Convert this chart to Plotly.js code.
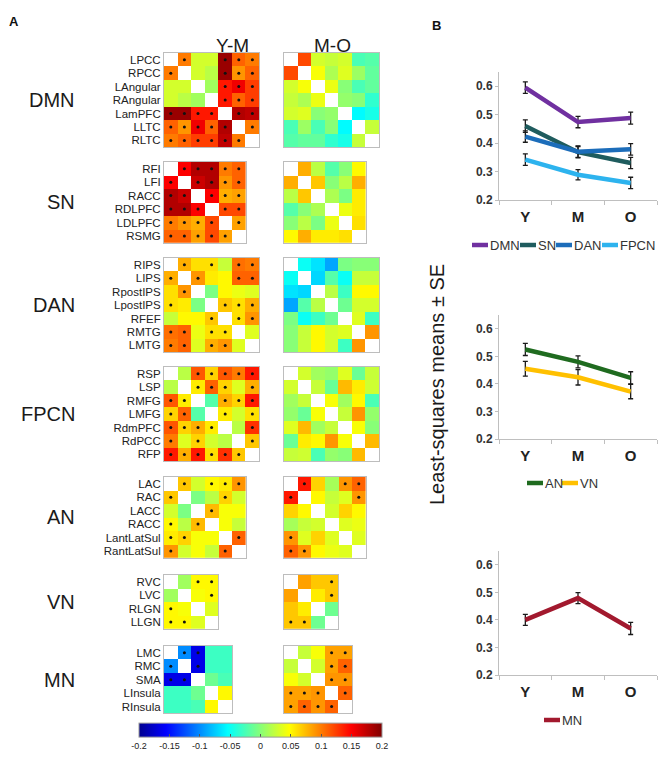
<!DOCTYPE html>
<html><head><meta charset="utf-8">
<script src="https://cdn.plot.ly/plotly-3.0.1.min.js"></script>
<style>html,body{margin:0;padding:0;background:#fff;}#chart{width:666px;height:763px;}</style>
</head><body><div id="chart"></div>
<script>
// ---------------- DATA ----------------
const networks = ['DMN','SN','DAN','FPCN','AN','VN','MN'];
const contrasts = ['Y-M','M-O'];

const DMN_regions = ['LPCC','RPCC','LAngular','RAngular','LamPFC','LLTC','RLTC'];
const SN_regions = ['RFI','LFI','RACC','RDLPFC','LDLPFC','RSMG'];
const DAN_regions = ['RIPS','LIPS','RpostIPS','LpostIPS','RFEF','RMTG','LMTG'];
const FPCN_regions = ['RSP','LSP','RMFG','LMFG','RdmPFC','RdPCC','RFP'];
const AN_regions = ['LAC','RAC','LACC','RACC','LantLatSul','RantLatSul'];
const VN_regions = ['RVC','LVC','RLGN','LLGN'];
const MN_regions = ['LMC','RMC','SMA','LInsula','RInsula'];

const DMN_YM = [
[null,0.10,0.03,0.03,0.19,0.11,0.10],
[0.10,null,0.03,0.02,0.19,0.09,0.11],
[0.03,0.03,null,0.01,0.14,0.155,0.125],
[0.03,0.02,0.01,null,0.14,0.11,0.125],
[0.19,0.19,0.14,0.14,null,0.18,0.175],
[0.11,0.09,0.155,0.11,0.18,null,0.10],
[0.10,0.11,0.125,0.125,0.175,0.10,null]];
const DMN_MO = [
[null,0.12,0.03,0.025,0.03,-0.025,-0.02],
[0.12,null,0.045,0.015,0.035,0.008,-0.015],
[0.03,0.045,null,0.04,0.0,-0.025,-0.015],
[0.025,0.015,0.04,null,0.005,0.0,-0.035],
[0.03,0.035,0.0,0.005,null,-0.055,-0.045],
[-0.025,0.008,-0.025,0.0,-0.055,null,0.025],
[-0.02,-0.015,-0.015,-0.035,-0.045,0.025,null]];
const SN_YM = [
[null,0.15,0.18,0.18,0.10,0.11],
[0.15,null,0.17,0.18,0.09,0.11],
[0.18,0.17,null,0.15,0.08,0.085],
[0.18,0.18,0.15,null,0.12,0.12],
[0.10,0.09,0.08,0.12,null,0.085],
[0.11,0.11,0.085,0.12,0.085,null]];
const SN_MO = [
[null,0.08,0.02,-0.02,0.0,0.05],
[0.08,null,0.07,0.0,0.02,0.08],
[0.02,0.07,null,0.015,-0.005,0.055],
[-0.02,0.0,0.015,null,0.04,0.055],
[0.0,0.02,-0.005,0.04,null,0.06],
[0.05,0.08,0.055,0.055,0.06,null]];
const DAN_YM = [
[null,0.08,0.06,0.06,0.025,0.105,0.10],
[0.08,null,0.09,0.055,0.05,0.11,0.11],
[0.06,0.09,null,-0.005,0.05,0.04,0.035],
[0.06,0.055,-0.005,null,0.07,0.06,0.08],
[0.025,0.05,0.05,0.07,null,0.06,0.09],
[0.105,0.11,0.04,0.06,0.06,null,0.035],
[0.10,0.11,0.035,0.08,0.09,0.035,null]];
const DAN_MO = [
[null,-0.05,-0.065,-0.09,-0.005,0.0,0.0],
[-0.05,null,-0.07,-0.02,-0.05,0.025,0.025],
[-0.065,-0.07,null,0.02,-0.03,0.05,0.05],
[-0.09,-0.02,0.02,null,-0.01,0.03,0.03],
[-0.005,-0.05,-0.03,-0.01,null,0.035,-0.03],
[0.0,0.025,0.05,0.03,0.035,null,0.09],
[0.0,0.025,0.05,0.03,-0.03,0.09,null]];
const FPCN_YM = [
[null,0.02,0.115,0.065,0.115,0.10,0.14],
[0.02,null,0.055,0.11,0.065,0.035,0.08],
[0.115,0.055,null,-0.02,0.08,0.065,0.14],
[0.065,0.11,-0.02,null,0.055,0.03,0.06],
[0.115,0.065,0.08,0.055,null,0.02,0.13],
[0.10,0.035,0.065,0.03,0.02,null,0.07],
[0.14,0.08,0.14,0.06,0.13,0.07,null]];
const FPCN_MO = [
[null,0.03,0.01,0.005,0.035,-0.012,0.025],
[0.03,null,0.025,-0.012,0.075,0.055,0.028],
[0.01,0.025,null,0.045,0.01,0.05,-0.025],
[0.005,-0.012,0.045,null,0.025,0.09,0.005],
[0.035,0.075,0.01,0.025,null,0.045,0.0],
[-0.012,0.055,0.05,0.09,0.045,null,0.075],
[0.025,0.028,-0.025,0.005,0.0,0.075,null]];
const AN_YM = [
[null,0.07,0.03,0.05,0.055,0.09],
[0.07,null,-0.005,0.02,0.065,0.03],
[0.03,-0.005,null,0.075,0.045,0.045],
[0.05,0.02,0.075,null,0.045,0.025],
[0.055,0.065,0.045,0.045,null,0.11],
[0.09,0.03,0.045,0.025,0.11,null]];
const AN_MO = [
[null,0.14,0.065,0.012,0.09,0.11],
[0.14,null,0.05,0.025,0.035,0.09],
[0.065,0.05,null,0.03,0.065,0.05],
[0.012,0.025,0.03,null,0.035,0.04],
[0.09,0.035,0.065,0.035,null,0.035],
[0.11,0.09,0.05,0.04,0.035,null]];
const VN_YM = [
[null,0.01,0.05,0.05],
[0.01,null,0.045,0.05],
[0.05,0.045,null,0.035],
[0.05,0.05,0.035,null]];
const VN_MO = [
[null,0.085,0.07,0.07],
[0.085,null,0.055,0.07],
[0.07,0.055,null,-0.01],
[0.07,0.07,-0.01,null]];
const MN_YM = [
[null,-0.1,-0.165,-0.03,-0.03],
[-0.1,null,-0.165,-0.03,-0.03],
[-0.165,-0.165,null,-0.01,-0.025],
[-0.03,-0.03,-0.01,null,0.05],
[-0.03,-0.03,-0.025,0.05,null]];
const MN_MO = [
[null,0.025,0.045,0.085,0.085],
[0.025,null,0.03,0.085,0.11],
[0.045,0.03,null,0.09,0.09],
[0.085,0.085,0.09,null,0.11],
[0.085,0.11,0.09,0.11,null]];

// significance markers (1 = dot)
const DMN_YM_SIG = [
[0,1,0,0,1,1,1],[1,0,0,0,1,1,1],[0,0,0,0,1,1,1],[0,0,0,0,1,1,1],
[1,1,1,1,0,1,1],[1,1,1,1,1,0,1],[1,1,1,1,1,1,0]];
const SN_YM_SIG = [
[0,1,1,1,1,1],[1,0,1,1,1,1],[1,1,0,1,1,1],[1,1,1,0,1,1],[1,1,1,1,0,1],[1,1,1,1,1,0]];
const DAN_YM_SIG = [
[0,1,0,1,0,1,1],[1,0,1,0,0,1,1],[0,1,0,0,0,0,0],[1,0,0,0,1,1,1],
[0,0,0,1,0,1,1],[1,1,0,1,1,0,0],[1,1,0,1,1,0,0]];
const FPCN_YM_SIG = [
[0,0,1,1,1,1,1],[0,0,1,1,1,0,1],[1,1,0,0,1,1,1],[1,1,0,0,1,0,1],
[1,1,1,1,0,0,1],[1,0,1,0,0,0,1],[1,1,1,1,1,1,0]];
const AN_YM_SIG = [
[0,1,0,1,1,1],[1,0,0,0,1,0],[0,0,0,1,0,0],[1,0,1,0,0,0],[1,1,0,0,0,1],[1,0,0,0,1,0]];
const AN_MO_SIG = [
[0,1,0,0,1,1],[1,0,0,0,0,1],[0,0,0,0,0,0],[0,0,0,0,0,0],[1,0,0,0,0,0],[1,1,0,0,0,0]];
const VN_YM_SIG = [[0,0,1,1],[0,0,0,1],[1,0,0,0],[1,1,0,0]];
const VN_MO_SIG = [[0,0,0,1],[0,0,0,1],[0,0,0,0],[1,1,0,0]];
const MN_YM_SIG = [[0,1,1,0,0],[1,0,1,0,0],[1,1,0,0,0],[0,0,0,0,0],[0,0,0,0,0]];
const MN_MO_SIG = [[0,0,0,1,1],[0,0,0,1,1],[0,0,0,1,1],[1,1,1,0,1],[1,1,1,1,0]];

const colorbarTicks = [-0.2,-0.15,-0.1,-0.05,0,0.05,0.1,0.15,0.2];

// line charts (panel B)
const groups = ['Y','M','O'];
const DMN_mean=[0.595,0.474,0.488], DMN_se=[0.02,0.02,0.021];
const SN_mean=[0.46,0.368,0.33], SN_se=[0.022,0.02,0.02];
const DAN_mean=[0.423,0.37,0.378], DAN_se=[0.02,0.02,0.02];
const FPCN_mean=[0.342,0.289,0.26], FPCN_se=[0.02,0.018,0.02];
const AN_mean=[0.525,0.48,0.422], AN_se=[0.022,0.022,0.022];
const VN_mean=[0.455,0.424,0.372], VN_se=[0.027,0.028,0.026];
const MN_mean=[0.4,0.479,0.369], MN_se=[0.02,0.02,0.022];
const lineNames1 = ['DMN','SN','DAN','FPCN'];
const lineNames2 = ['AN','VN'];
const lineNames3 = ['MN'];

// ---------------- STYLE / LAYOUT ----------------
const W=666, H=763;
const px = x => x/W;
const py = y => 1 - y/H;
const jet = [[0,'rgb(0,0,143)'],[0.111,'rgb(0,0,255)'],[0.365,'rgb(0,255,255)'],
             [0.619,'rgb(255,255,0)'],[0.873,'rgb(255,0,0)'],[1,'rgb(128,0,0)']];
const lineColors = {DMN:'#7030A0',SN:'#1F5C5E',DAN:'#1C6DBA',FPCN:'#2DB3EE',AN:'#1F6B1F',VN:'#FFC000',MN:'#A2192E'};
const blockTops = [53,162,258,367,477,575,646];
const colX = [164,284];
const cw = 13.6, ch = 13.45;

const blocks = [
 {name:'DMN',reg:DMN_regions,z:[DMN_YM,DMN_MO],sig:[DMN_YM_SIG,null]},
 {name:'SN',reg:SN_regions,z:[SN_YM,SN_MO],sig:[SN_YM_SIG,null]},
 {name:'DAN',reg:DAN_regions,z:[DAN_YM,DAN_MO],sig:[DAN_YM_SIG,null]},
 {name:'FPCN',reg:FPCN_regions,z:[FPCN_YM,FPCN_MO],sig:[FPCN_YM_SIG,null]},
 {name:'AN',reg:AN_regions,z:[AN_YM,AN_MO],sig:[AN_YM_SIG,AN_MO_SIG]},
 {name:'VN',reg:VN_regions,z:[VN_YM,VN_MO],sig:[VN_YM_SIG,VN_MO_SIG]},
 {name:'MN',reg:MN_regions,z:[MN_YM,MN_MO],sig:[MN_YM_SIG,MN_MO_SIG]}
];

const data = [];
const layout = {
  width:W, height:H, margin:{l:0,r:0,t:0,b:0}, showlegend:false,
  paper_bgcolor:'#fff', plot_bgcolor:'#fff',
  font:{family:'Arial, Liberation Sans, sans-serif', color:'#222'},
  annotations:[], shapes:[]
};

let k = 0;
blocks.forEach((b,bi) => {
  const n = b.reg.length;
  const y0 = blockTops[bi], y1 = y0 + n*ch;
  layout.annotations.push({xref:'paper',yref:'paper',x:px(77),y:py((y0+y1)/2),xanchor:'right',yanchor:'middle',
    text:b.name, showarrow:false, font:{size:20,color:'#1a1a1a'}});
  for (let c=0;c<2;c++){
    k++;
    const xa = 'x'+k, ya = 'y'+k;
    const x0 = colX[c], x1 = x0 + n*cw;
    data.push({type:'heatmap', z:b.z[c], x:[...Array(n).keys()], y:[...Array(n).keys()],
      xaxis:xa, yaxis:ya, colorscale:jet, zmin:-0.2, zmax:0.2, hoverinfo:'skip',
      showscale: k===1,
      colorbar: k===1 ? {orientation:'h', x:px((139+382)/2), xanchor:'center', y:py(739), yanchor:'middle',
         len:(382-139)/W, lenmode:'fraction', thickness:14, thicknessmode:'pixels',
         xpad:0, ypad:0, outlinecolor:'#999', outlinewidth:1,
         tickvals:colorbarTicks, ticktext:colorbarTicks.map(String), ticks:'inside', ticklen:3, tickcolor:'#555',
         tickfont:{size:9,color:'#222'}} : undefined});
    if (b.sig[c]) {
      const sx=[], sy=[];
      b.sig[c].forEach((row,i)=>row.forEach((v,j)=>{ if(v){sx.push(j); sy.push(i);} }));
      data.push({type:'scatter', mode:'markers', x:sx, y:sy, xaxis:xa, yaxis:ya, hoverinfo:'skip',
        marker:{size:3, color:'#111'}});
    }
    layout['xaxis'+k] = {domain:[px(x0),px(x1)], anchor:ya, range:[-0.5,n-0.5], showticklabels:false,
      showgrid:false, zeroline:false, showline:true, mirror:true, linecolor:'#bdbdbd', linewidth:1, ticks:'', fixedrange:true};
    layout['yaxis'+k] = {domain:[py(y1),py(y0)], anchor:xa, range:[n-0.5,-0.5], showgrid:false, zeroline:false,
      showline:true, mirror:true, linecolor:'#bdbdbd', linewidth:1, ticks:'',
      tickvals:[...Array(n).keys()], ticktext:b.reg, showticklabels: c===0,
      tickfont:{size:11.5,color:'#222'}, fixedrange:true};
  }
});

// column titles and panel letters
layout.annotations.push({xref:'paper',yref:'paper',x:px(214),y:py(33),text:contrasts[0],showarrow:false,font:{size:19,color:'#1a1a1a'}});
layout.annotations.push({xref:'paper',yref:'paper',x:px(332),y:py(33),text:contrasts[1],showarrow:false,font:{size:19,color:'#1a1a1a'}});
layout.annotations.push({xref:'paper',yref:'paper',x:px(7),y:py(12),xanchor:'left',text:'<b>A</b>',showarrow:false,font:{size:13,color:'#111'}});
layout.annotations.push({xref:'paper',yref:'paper',x:px(430),y:py(16),xanchor:'left',text:'<b>B</b>',showarrow:false,font:{size:13,color:'#111'}});
layout.annotations.push({xref:'paper',yref:'paper',x:px(437),y:py(385),text:'Least-squares means ± SE',textangle:-90,
  showarrow:false,font:{size:20,color:'#1a1a1a'}});

// panel B line charts
const charts = [
  {names:lineNames1, means:[DMN_mean,SN_mean,DAN_mean,FPCN_mean], se:[DMN_se,SN_se,DAN_se,FPCN_se], top:72, bottom:200, legY:245, legX:[472,520,556,602]},
  {names:lineNames2, means:[AN_mean,VN_mean], se:[AN_se,VN_se], top:315, bottom:439, legY:483, legX:[527,562]},
  {names:lineNames3, means:[MN_mean], se:[MN_se], top:551, bottom:675, legY:720, legX:[544]}
];
charts.forEach(ch_ => {
  k++;
  const xa='x'+k, ya='y'+k;
  ch_.names.forEach((nm,i)=>{
    data.push({type:'scatter', mode:'lines', x:groups, y:ch_.means[i], xaxis:xa, yaxis:ya, name:nm,
      line:{color:lineColors[nm], width:4.5}, hoverinfo:'skip',
      error_y:{type:'data', array:ch_.se[i], visible:true, color:'#1a1a1a', thickness:1.3, width:2.5}});
    const lx = ch_.legX[i];
    layout.shapes.push({type:'line', xref:'paper', yref:'paper', x0:px(lx), x1:px(lx+16), y0:py(ch_.legY), y1:py(ch_.legY),
      line:{color:lineColors[nm], width:4.5}});
    layout.annotations.push({xref:'paper',yref:'paper',x:px(lx+16),y:py(ch_.legY),xanchor:'left',yanchor:'middle',
      text:nm,showarrow:false,font:{size:13,color:'#333'}});
  });
  layout['xaxis'+k] = {domain:[px(499),px(657)], anchor:ya, type:'category', categoryarray:groups, range:[-0.5,2.5],
    tickson:'boundaries', ticks:'outside', ticklen:4, tickcolor:'#bfbfbf', showline:true, linecolor:'#bfbfbf', linewidth:1,
    showgrid:false, zeroline:false, tickfont:{size:15,color:'#222',weight:'bold'}, ticklabelstandoff:3, fixedrange:true};
  layout['yaxis'+k] = {domain:[py(ch_.bottom),py(ch_.top)], anchor:xa, range:[0.2,0.65], tick0:0.2, dtick:0.1, tickformat:'.1f',
    ticks:'outside', ticklen:3, tickcolor:'#bfbfbf', showline:true, linecolor:'#bfbfbf', linewidth:1,
    showgrid:false, zeroline:false, tickfont:{size:12,color:'#333',weight:'bold'}, fixedrange:true};
});

Plotly.newPlot('chart', data, layout, {displayModeBar:false, staticPlot:true});
</script></body></html>
